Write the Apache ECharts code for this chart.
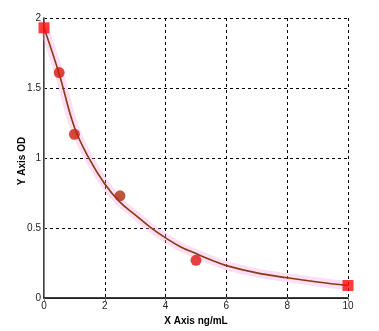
<!DOCTYPE html>
<html><head><meta charset="utf-8">
<script src="https://cdn.jsdelivr.net/npm/echarts@6/dist/echarts.min.js"></script>
<style>html,body{margin:0;padding:0;background:#fff}#c{width:379px;height:331px}</style>
</head><body><div id="c"></div>
<script>
const xTicks = [0, 2, 4, 6, 8, 10];
const yTicks = [0, 0.5, 1, 1.5, 2];
const pointX = [0, 0.5, 1, 2.5, 5, 10];
const pointY = [1.93, 1.61, 1.17, 0.73, 0.27, 0.09];
const curveX = [0, 0.5, 1, 1.5, 2, 2.5, 3, 3.5, 4, 4.5, 5, 5.5, 6, 7, 8, 9, 10];
const curveY = [1.93, 1.60, 1.22, 0.99, 0.815, 0.685, 0.595, 0.505, 0.43, 0.365, 0.318, 0.272, 0.232, 0.18, 0.145, 0.115, 0.09];
const xName = 'X Axis ng/mL';
const yName = 'Y Axis OD';

const curve = curveX.map((x, i) => [x, curveY[i]]);
const pointColors = ['#ff0a0a', '#d61a0a', '#c8200c', '#a8300c', '#e01212', '#ff0a0a'];
const pointShapes = ['rect', 'circle', 'circle', 'circle', 'circle', 'rect'];
const points = pointX.map((x, i) => ({
  value: [x, pointY[i]],
  symbol: pointShapes[i],
  symbolSize: pointShapes[i] === 'rect' ? 11 : 11,
  itemStyle: { color: pointColors[i] }
}));

const chart = echarts.init(document.getElementById('c'), null, { renderer: 'canvas' });
const lbl = { fontFamily: 'Liberation Sans, Arial, sans-serif', fontSize: 10, color: '#222' };
chart.setOption({
  animation: false,
  grid: { left: 44, right: 31, top: 18, bottom: 26, show: false },
  xAxis: [{
    type: 'value', min: 0, max: 10, interval: 2, position: 'bottom',
    axisLine: { show: true, lineStyle: { color: '#808080', width: 1 } },
    axisTick: { show: true, length: 3, lineStyle: { color: '#808080' } },
    axisLabel: Object.assign({ margin: 3, formatter: v => xTicks.includes(v) ? String(v) : '' }, lbl),
    splitLine: { show: true, lineStyle: { color: '#000', type: [3, 3], width: 1 } },
    name: xName, nameLocation: 'middle', nameGap: 16,
    nameTextStyle: { fontFamily: 'Liberation Sans, Arial, sans-serif', fontSize: 10, fontWeight: 'bold', color: '#000' }
  }, {
    type: 'value', min: 0, max: 10, position: 'top',
    axisLine: { show: true, lineStyle: { color: '#000', width: 1.5 } },
    axisTick: { show: false }, axisLabel: { show: false }, splitLine: { show: false }
  }],
  yAxis: [{
    type: 'value', min: 0, max: 2, interval: 0.5, position: 'left',
    axisLine: { show: true, lineStyle: { color: '#000', width: 1.5 } },
    axisTick: { show: false },
    axisLabel: Object.assign({ margin: 3, formatter: v => yTicks.includes(v) ? String(v) : '' }, lbl),
    splitLine: { show: true, lineStyle: { color: '#000', type: [3, 3], width: 1 } }
  }, {
    type: 'value', min: 0, max: 2, position: 'right',
    axisLine: { show: true, lineStyle: { color: '#808080', width: 1 } },
    axisTick: { show: false }, axisLabel: { show: false }, splitLine: { show: false }
  }],
  graphic: [{
    type: 'text', left: 12, top: 'middle', rotation: Math.PI / 2,
    style: { text: yName, font: 'bold 10px Liberation Sans, Arial, sans-serif', fill: '#000', textAlign: 'center', textVerticalAlign: 'middle' },
    x: 22, y: 161, left: null, top: null
  }],
  series: [{
    type: 'line', data: curve, smooth: 0.4, showSymbol: false, silent: true,
    lineStyle: { color: 'rgba(245,160,225,0.35)', width: 9 }, z: 1
  }, {
    type: 'line', data: curve, smooth: 0.4, showSymbol: false,
    lineStyle: { color: '#8a3a12', width: 1.6 }, z: 3
  }, {
    type: 'scatter', data: points, z: 4, clip: false
  }]
});
</script></body></html>
